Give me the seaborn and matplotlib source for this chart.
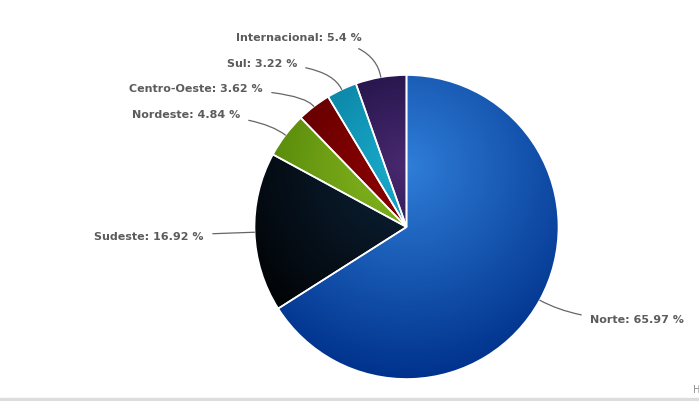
import numpy as np
import matplotlib
matplotlib.use("Agg")
import matplotlib.pyplot as plt
import matplotlib.colors as mcolors
import seaborn as sns

regions = ["Norte", "Sudeste", "Nordeste", "Centro-Oeste", "Sul", "Internacional"]
shares = [65.97, 16.92, 4.84, 3.62, 3.22, 5.4]
colors = ["#2f7ed8", "#0d233a", "#8bbc21", "#910000", "#1aadce", "#492970"]

# label anchor positions in pixels (x, y from top), alignment
label_pos = [(590, 320, "left"), (204, 237, "right"), (240, 115, "right"),
             (263, 89, "right"), (297, 64, "right"), (362, 38, "right")]

W, H = 699, 401
sns.set_theme(style="white")
plt.rcParams["font.family"] = ["DejaVu Sans"]

fig = plt.figure(figsize=(W / 100, H / 100), dpi=100)
ax = fig.add_axes([0, 0, 1, 1])

cx, cy, r = 406.5, H - 227, 152

wedges, _ = ax.pie(shares, radius=r, center=(cx, cy), startangle=90,
                   counterclock=False, normalize=True,
                   wedgeprops=dict(edgecolor="white", linewidth=1.2))

# radial gradient like highcharts: center (0.5, 0.3), r 0.7, darken by 0.3
gx, gy, gr = cx, cy + 0.4 * r, 1.4 * r
n = 400
xs = np.linspace(cx - r, cx + r, n)
ys = np.linspace(cy - r, cy + r, n)
X, Y = np.meshgrid(xs, ys)
t = np.clip(np.hypot(X - gx, Y - gy) / gr, 0, 1)[..., None]

for w, c in zip(wedges, colors):
    base = np.array(mcolors.to_rgb(c))
    dark = np.clip(base - 76 / 255, 0, 1)
    img = base * (1 - t) + dark * t
    w.set_facecolor("none")
    im = ax.imshow(img, extent=(cx - r, cx + r, cy - r, cy + r), origin="lower",
                   interpolation="bilinear", zorder=1)
    im.set_clip_path(w)
    w.set_zorder(2)

# labels with curved connectors
total = sum(shares)
start = 0.0
for name, val, (lx, ly, ha) in zip(regions, shares, label_pos):
    mid = (start + val / 2) / total * 360
    start += val
    ang = np.deg2rad(90 - mid)
    ex, ey = cx + r * np.cos(ang), cy + r * np.sin(ang)
    ax.annotate(f"{name}: {val:g} %", xy=(ex, ey), xytext=(lx, H - ly),
                ha=ha, va="center", fontsize=8, fontweight="bold", color="#5c5c5c",
                arrowprops=dict(arrowstyle="-", color="#666666", lw=0.9,
                                shrinkA=4, shrinkB=0,
                                connectionstyle=f"angle3,angleA=0,angleB={np.rad2deg(ang):.1f}"),
                zorder=3)

ax.text(693, H - 390, "H", fontsize=7, color="#909090", ha="left", va="center")
ax.axhspan(0, 3, color="#dcdcdc", zorder=0)

ax.set_xlim(0, W)
ax.set_ylim(0, H)
ax.set_aspect("auto")
ax.axis("off")

fig.savefig("out.png", dpi=100)
